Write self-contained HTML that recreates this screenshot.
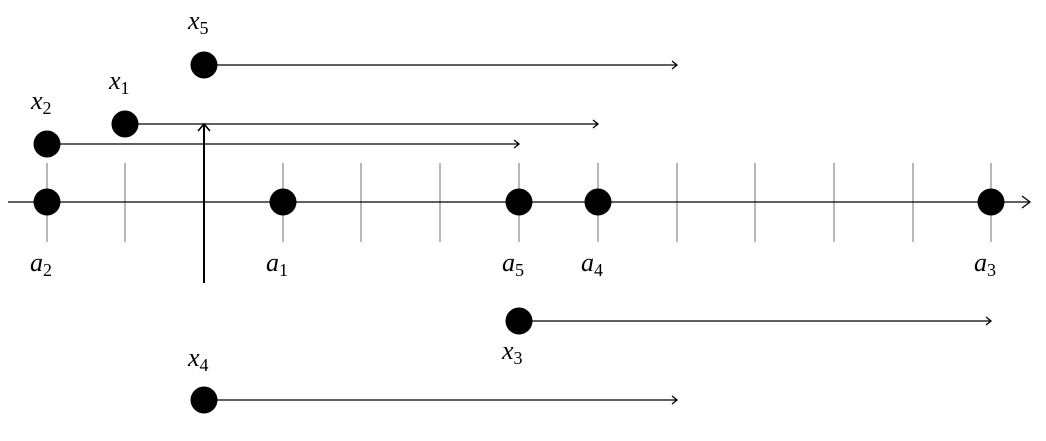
<!DOCTYPE html>
<html><head><meta charset="utf-8"><style>
html,body{margin:0;padding:0;background:#fff;}
text{font-family:"Liberation Serif",serif;font-style:italic;font-size:26px;fill:#000;}
.s{font-size:18px;font-style:normal;}
</style></head><body>
<svg width="1046" height="436" viewBox="0 0 1046 436" xmlns="http://www.w3.org/2000/svg">
<g stroke="#888" stroke-width="1.2">
<line x1="47" y1="163" x2="47" y2="242"/><line x1="125" y1="163" x2="125" y2="242"/>
<line x1="204" y1="163" x2="204" y2="242"/><line x1="283" y1="163" x2="283" y2="242"/>
<line x1="361" y1="163" x2="361" y2="242"/><line x1="440" y1="163" x2="440" y2="242"/>
<line x1="519" y1="163" x2="519" y2="242"/><line x1="598" y1="163" x2="598" y2="242"/>
<line x1="677" y1="163" x2="677" y2="242"/><line x1="755" y1="163" x2="755" y2="242"/>
<line x1="834" y1="163" x2="834" y2="242"/><line x1="913" y1="163" x2="913" y2="242"/>
<line x1="991" y1="163" x2="991" y2="242"/>
</g>
<g stroke="#000" stroke-width="1.3" fill="none">
<line x1="8" y1="202" x2="1029" y2="202"/><path d="M1022,196 L1030,202 L1022,208"/>
<line x1="47" y1="144" x2="519" y2="144"/><path d="M514,140 L519,144 L514,148"/>
<line x1="125" y1="124" x2="598" y2="124"/><path d="M593,120 L598,124 L593,128"/>
<line x1="204" y1="65" x2="677" y2="65"/><path d="M672,61 L677,65 L672,69"/>
<line x1="519" y1="321" x2="991" y2="321"/><path d="M986,317 L991,321 L986,325"/>
<line x1="204" y1="400" x2="677" y2="400"/><path d="M672,396 L677,400 L672,404"/>
<line x1="204" y1="283" x2="204" y2="125" stroke-width="2"/><path d="M198,131 L204,124 L210,131" stroke-width="1.6"/>
</g>
<g fill="#000">
<circle cx="47" cy="202" r="13.5"/><circle cx="283" cy="202" r="13.5"/><circle cx="519" cy="202" r="13.5"/>
<circle cx="598" cy="202" r="13.5"/><circle cx="991" cy="202" r="13.5"/>
<circle cx="47" cy="144" r="13.5"/><circle cx="125" cy="124" r="13.5"/><circle cx="204" cy="65" r="13.5"/>
<circle cx="519" cy="321" r="13.5"/><circle cx="204" cy="400" r="13.5"/>
</g>
<text x="31" y="109">x<tspan class="s" dy="5">2</tspan></text>
<text x="109" y="89">x<tspan class="s" dy="5">1</tspan></text>
<text x="188" y="29">x<tspan class="s" dy="5">5</tspan></text>
<text x="502" y="359">x<tspan class="s" dy="5">3</tspan></text>
<text x="188" y="366">x<tspan class="s" dy="5">4</tspan></text>
<text x="30" y="271">a<tspan class="s" dy="5">2</tspan></text>
<text x="266" y="271">a<tspan class="s" dy="5">1</tspan></text>
<text x="502" y="271">a<tspan class="s" dy="5">5</tspan></text>
<text x="581" y="271">a<tspan class="s" dy="5">4</tspan></text>
<text x="974" y="271">a<tspan class="s" dy="5">3</tspan></text>
</svg>
</body></html>
